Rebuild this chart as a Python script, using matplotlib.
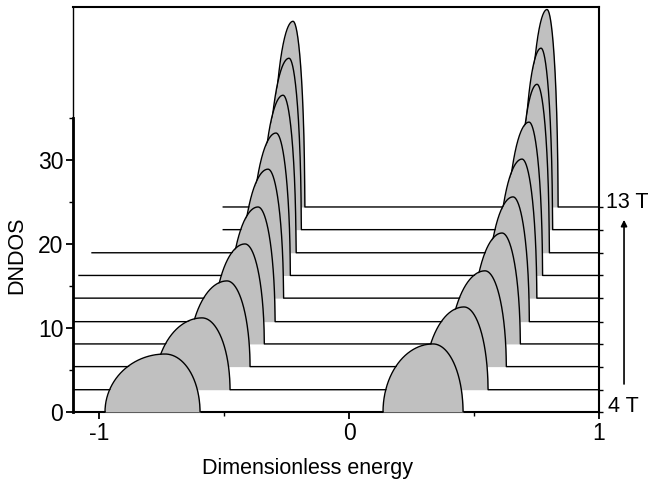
import numpy as np
import matplotlib
matplotlib.use("Agg")
import matplotlib.pyplot as plt

plt.rcParams['font.family'] = ['Liberation Sans', 'DejaVu Sans']
plt.rcParams['axes.unicode_minus'] = False

# field values (T) and vertical offset of each trace
fields = [4, 5, 6, 7, 8, 9, 10, 11, 12, 13]
offsets = [0, 2.65, 5.4, 8.1, 10.75, 13.55, 16.25, 18.95, 21.7, 24.4]
# where each trace's baseline starts on the left
x_start = [-1.104, -1.104, -1.104, -1.104, -1.104, -1.104, -1.08, -1.028, -0.503, -0.503]

# lower level: left edge, peak position, right edge, peak height
low_left = [-0.976, -0.778, -0.644, -0.546, -0.48, -0.433, -0.394, -0.352, -0.328, -0.306]
low_peak = [-0.736, -0.588, -0.488, -0.416, -0.364, -0.324, -0.292, -0.264, -0.240, -0.224]
low_right = [-0.596, -0.476, -0.396, -0.339, -0.296, -0.262, -0.235, -0.212, -0.191, -0.177]
low_h = [6.9, 8.55, 10.2, 11.9, 13.65, 15.35, 16.95, 18.75, 20.4, 22.1]

# upper level
up_left = [0.136, 0.30, 0.397, 0.492, 0.549, 0.592, 0.626, 0.679, 0.695, 0.719]
up_peak = [0.336, 0.46, 0.544, 0.612, 0.656, 0.692, 0.72, 0.752, 0.768, 0.792]
up_right = [0.456, 0.556, 0.629, 0.685, 0.721, 0.751, 0.774, 0.801, 0.814, 0.836]
up_h = [8.1, 9.85, 11.4, 13.2, 14.85, 16.55, 18.25, 20.05, 21.6, 23.5]


def bump(x, a, p, b, h):
    # two quarter ellipses joined at the peak
    y = np.zeros_like(x)
    m = (x >= a) & (x <= p)
    y[m] = h * np.sqrt(np.clip(1 - ((p - x[m]) / (p - a)) ** 2, 0, 1))
    m = (x > p) & (x <= b)
    y[m] = h * np.sqrt(np.clip(1 - ((x[m] - p) / (b - p)) ** 2, 0, 1))
    return y


fig = plt.figure(figsize=(6.49, 4.80), dpi=100)
ax = fig.add_axes([0.1125, 0.1417, 0.8105, 0.8437])

n = len(fields)
for i in range(n - 1, -1, -1):
    x = np.linspace(x_start[i], 1.0, 6000)
    x = np.union1d(x, [low_left[i], low_peak[i], low_right[i],
                       up_left[i], up_peak[i], up_right[i]])
    y = bump(x, low_left[i], low_peak[i], low_right[i], low_h[i]) + \
        bump(x, up_left[i], up_peak[i], up_right[i], up_h[i])
    z = 2 * (n - i)
    ax.fill_between(x, offsets[i], offsets[i] + y, color='#c0c0c0', lw=0, zorder=z)
    ax.plot(x, offsets[i] + y, color='black', lw=1.0, zorder=z + 1)

ax.set_xlim(-1.104, 1.0)
ax.set_ylim(0, 48.2)
ax.set_xticks([-1, 0, 1])
ax.set_xticks([-0.5, 0.5], minor=True)
ax.set_yticks([0, 10, 20, 30])
ax.set_yticks([5, 15, 25, 35], minor=True)
ax.tick_params(which='major', direction='out', length=5, width=1.3, labelsize=16.5, pad=2)
ax.tick_params(which='minor', direction='out', length=3, width=1.0)
for s in ['top', 'bottom', 'right']:
    ax.spines[s].set_linewidth(1.5)
ax.spines['left'].set_linewidth(1.0)
ax.plot([-1.104, -1.104], [0, 35], color='black', lw=2.0, clip_on=False, zorder=50)

# small ticks on the right at each baseline
ax2 = ax.twinx()
ax2.set_ylim(ax.get_ylim())
ax2.set_yticks(offsets)
ax2.set_yticklabels([])
ax2.tick_params(direction='out', length=3, width=1.0)
for s in ax2.spines.values():
    s.set_visible(False)

ax.text(1.026, offsets[-1] + 0.5, f'{fields[-1]} T', fontsize=15.5, va='center', ha='left', clip_on=False)
ax.text(1.034, offsets[0] + 0.6, f'{fields[0]} T', fontsize=15.5, va='center', ha='left', clip_on=False)
ax.annotate('', xy=(1.1, 23.2), xytext=(1.1, 3.0), xycoords='data',
            arrowprops=dict(arrowstyle='-|>', color='black', lw=1.2, mutation_scale=9),
            annotation_clip=False)

ax.set_xlabel('Dimensionless energy', fontsize=15.5)
ax.xaxis.set_label_coords(0.445, -0.114)
ax.set_ylabel('DNDOS', fontsize=15.5)
ax.yaxis.set_label_coords(-0.0875, 0.388)

fig.savefig('out.png', dpi=100)
